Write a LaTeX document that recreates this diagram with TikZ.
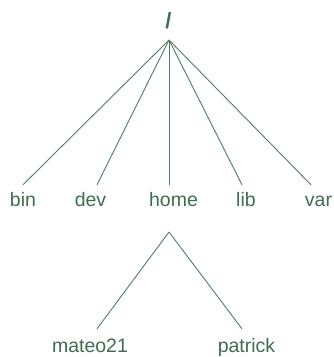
\documentclass[tikz,border=0pt]{standalone}
\usepackage{fontspec}
\setmainfont{Liberation Sans}
\usetikzlibrary{calc}
\definecolor{treegreen}{HTML}{3F6D50}
\tikzset{
  every node/.style={font=\fontsize{19.5}{22}\selectfont,text=treegreen},
  dirname/.style={anchor=base,inner sep=0pt,text height=14pt,text depth=4pt},
  branch/.style={draw=treegreen!90,line width=0.9pt},
}
\begin{document}
\begin{tikzpicture}[x=1pt,y=-1pt]
\useasboundingbox (0,0) rectangle (333,357);

% root
\node[dirname,font=\fontsize{22}{24}\selectfont\bfseries] (root) at (168.5,28) {/};
\coordinate (rootHub) at (169,40);

% first level
\node[dirname] (bin) at (23,206) {bin};
\node[dirname] (dev) at (90.5,206) {dev};
\node[dirname] (home) at (173.5,206) {home};
\node[dirname] (lib) at (246,206) {lib};
\node[dirname] (var) at (318.5,206) {var};
\foreach \d/\dx in {bin/0,dev/6.5,home/-4.5,lib/-4,var/-7.5}
  {\draw[branch] (rootHub) -- ($(\d.north)+(\dx,-7)$);}

% home users
\coordinate (homeHub) at (169,232);
\node[dirname] (mateo) at (90,352) {mateo21};
\node[dirname] (patrick) at (246.5,352) {patrick};
\draw[branch] (homeHub) -- ($(mateo.north)+(7,-9)$);
\draw[branch] (homeHub) -- ($(patrick.north)+(-4.5,-9)$);

\end{tikzpicture}
\end{document}
